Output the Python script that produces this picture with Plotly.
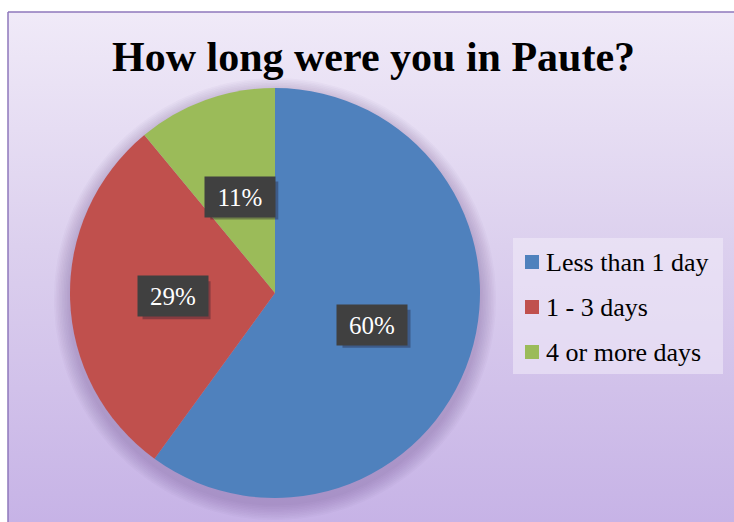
import math
import plotly.graph_objects as go

# Survey results
categories = ["Less than 1 day", "1 - 3 days", "4 or more days"]
shares = [60, 29, 11]
slice_colors = ["#4F81BD", "#C0504D", "#9BBB59"]
title_text = "How long were you in Paute?"

W, H = 734, 522
SERIF = "Liberation Serif"

# pie geometry in pixels (origin top-left)
cx, cy, R = 275, 293, 205


def px_x(x):
    return x / W


def px_y(y):
    return 1 - y / H


fig = go.Figure()

# chart area with a soft vertical lavender gradient
fig.add_trace(go.Scatter(
    x=[8, 745, 745, 8, 8],
    y=[H - 12, H - 12, -10, -10, H - 12],
    mode="lines",
    line=dict(color="#8F78BC", width=1.5),
    fill="toself",
    fillgradient=dict(type="vertical",
                      colorscale=[[0, "#C6B2E6"], [0.55, "#DCD0EE"], [1, "#F0EAF8"]]),
    hoverinfo="skip",
    showlegend=False,
))

# soft drop shadow around the pie, built from stacked translucent discs
n_pts = 180
for k in range(10):
    r = R + 16 - 1.6 * k
    xs = [cx + r * math.cos(2 * math.pi * i / n_pts) for i in range(n_pts + 1)]
    ys = [H - (cy + 6 + r * math.sin(2 * math.pi * i / n_pts)) for i in range(n_pts + 1)]
    fig.add_trace(go.Scatter(
        x=xs, y=ys, mode="lines", line=dict(width=0),
        fill="toself", fillcolor="rgba(90,60,130,0.03)",
        hoverinfo="skip", showlegend=False,
    ))

fig.add_trace(go.Pie(
    labels=categories,
    values=shares,
    marker=dict(colors=slice_colors, line=dict(width=0)),
    sort=False,
    direction="clockwise",
    rotation=0,
    textinfo="none",
    hoverinfo="label+percent",
    showlegend=False,
    domain=dict(x=[px_x(cx - R), px_x(cx + R)], y=[px_y(cy + R), px_y(cy - R)]),
))

# percentage labels placed at the middle of each slice
BOX_W, BOX_H = 68, 38
total = sum(shares)
cum = 0
for v in shares:
    theta = 2 * math.pi * (cum + v / 2) / total
    cum += v
    lx = cx + 0.5 * R * math.sin(theta)
    ly = cy - 0.5 * R * math.cos(theta)
    label = f"{round(100 * v / total)}%"
    # box shadow
    fig.add_shape(
        type="rect", xref="paper", yref="paper", layer="above",
        x0=px_x(lx - BOX_W / 2 + 4), x1=px_x(lx + BOX_W / 2 + 4),
        y0=px_y(ly - BOX_H / 2 + 4), y1=px_y(ly + BOX_H / 2 + 4),
        fillcolor="rgba(30,20,40,0.35)", line=dict(width=0),
    )
    fig.add_annotation(
        x=px_x(lx), y=px_y(ly), xref="paper", yref="paper",
        xanchor="center", yanchor="middle",
        text=label, showarrow=False, width=BOX_W, height=BOX_H,
        bgcolor="#404040", font=dict(family=SERIF, size=25, color="white"),
    )

# title
fig.add_annotation(
    x=px_x(373), y=px_y(57), xref="paper", yref="paper",
    text=f"<b>{title_text}</b>", showarrow=False,
    font=dict(family=SERIF, size=42, color="black"),
    xanchor="center", yanchor="middle",
)

# legend panel
LEG_X0, LEG_X1, LEG_Y0, LEG_Y1 = 513, 723, 238, 374
fig.add_shape(
    type="rect", xref="paper", yref="paper", layer="above",
    x0=px_x(LEG_X0), x1=px_x(LEG_X1), y0=px_y(LEG_Y1), y1=px_y(LEG_Y0),
    fillcolor="rgba(242,237,250,0.55)", line=dict(width=0),
)
item_gap = 45
first_y = 262
for i, (name, col) in enumerate(zip(categories, slice_colors)):
    iy = first_y + i * item_gap
    fig.add_shape(
        type="rect", xref="paper", yref="paper", layer="above",
        x0=px_x(525), x1=px_x(539), y0=px_y(iy + 7), y1=px_y(iy - 7),
        fillcolor=col, line=dict(width=0),
    )
    fig.add_annotation(
        x=px_x(544), y=px_y(iy), xref="paper", yref="paper",
        xanchor="left", yanchor="middle", text=name, showarrow=False,
        font=dict(family=SERIF, size=26, color="black"),
    )

fig.update_layout(
    width=W, height=H,
    margin=dict(l=0, r=0, t=0, b=0),
    paper_bgcolor="white",
    plot_bgcolor="rgba(0,0,0,0)",
    xaxis=dict(range=[0, W], visible=False, fixedrange=True),
    yaxis=dict(range=[0, H], visible=False, fixedrange=True),
    showlegend=False,
)

fig.write_html("out.html")
